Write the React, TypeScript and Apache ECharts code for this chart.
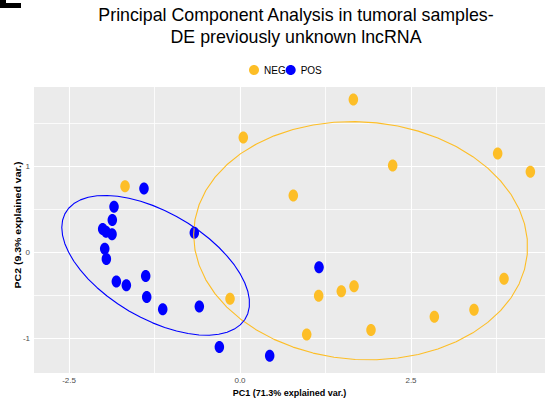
import React, { useEffect, useRef } from "react";
import * as echarts from "echarts";

// PC scores
const negPC1 = [-1.681, 0.048, 1.657, 0.779, 2.232, 3.767, 4.245, -0.146, 1.15, 1.481, 1.667, 0.975, 1.915, 2.841, 3.421, 3.86];
const negPC2 = [0.77, 1.337, 1.779, 0.663, 1.012, 1.151, 0.937, -0.543, -0.508, -0.453, -0.395, -0.958, -0.907, -0.752, -0.671, -0.31];
const posPC1 = [-1.404, -1.842, -1.867, -2.008, -1.959, -1.871, -1.978, -1.954, -1.808, -1.662, -1.379, -1.364, -1.13, -0.668, -0.595, 1.155, -0.302, 0.434];
const posPC2 = [0.744, 0.53, 0.376, 0.271, 0.24, 0.209, 0.042, -0.078, -0.342, -0.384, -0.276, -0.52, -0.663, 0.228, -0.632, -0.175, -1.105, -1.206];

const groups = ["NEG", "POS"];
const xMajor = [-2.5, 0, 2.5];
const xMinor = [-1.25, 1.25, 3.75];
const yMajor = [-1, 0, 1];
const yMinor = [-0.5, 0.5, 1.5];
const ellipseProb = 0.68;

const COLORS: Record<string, string> = { NEG: "#FDBE27", POS: "#0000FF" };
const FONT = "Liberation Sans, Arial, sans-serif";
const DOT = "path://M50,0 C77.6,0 100,22.4 100,50 C100,77.6 77.6,100 50,100 C22.4,100 0,77.6 0,50 C0,22.4 22.4,0 50,0 Z";

function ellipse(xs: number[], ys: number[], prob: number, n = 50): number[][] {
  const m = xs.length;
  const mx = xs.reduce((s, v) => s + v, 0) / m;
  const my = ys.reduce((s, v) => s + v, 0) / m;
  let a = 0, b = 0, c = 0;
  for (let i = 0; i < m; i++) {
    a += (xs[i] - mx) ** 2;
    b += (xs[i] - mx) * (ys[i] - my);
    c += (ys[i] - my) ** 2;
  }
  a /= m - 1; b /= m - 1; c /= m - 1;
  const ed = Math.sqrt(-2 * Math.log(1 - prob));
  const r11 = Math.sqrt(a);
  const r12 = b / r11;
  const r22 = Math.sqrt(c - r12 * r12);
  const pts: number[][] = [];
  for (let i = 0; i < n; i++) {
    const t = -Math.PI + (2 * Math.PI * i) / (n - 1);
    pts.push([mx + ed * Math.cos(t) * r11, my + ed * (Math.cos(t) * r12 + Math.sin(t) * r22)]);
  }
  return pts;
}

const zip = (xs: number[], ys: number[]) => xs.map((x, i) => [x, ys[i]]);

export default function App() {
  const ref = useRef<HTMLDivElement>(null);
  useEffect(() => {
    if (!ref.current) return;
    const chart = echarts.init(ref.current, undefined, { renderer: "svg" });
    const gridLine = (w: number) => ({ color: "#FFFFFF", width: w, type: "solid" as const });
    chart.setOption({
      animation: false,
      grid: { left: 34, right: 2, top: 87, bottom: 29, show: true, backgroundColor: "#EBEBEB", borderWidth: 0, containLabel: false, outerBoundsMode: "none" },
      legend: {
        data: groups,
        left: 249,
        top: 65,
        padding: 0,
        itemWidth: 10,
        itemHeight: 12,
        itemGap: 0,
        icon: DOT,
        textStyle: { fontFamily: FONT, fontSize: 10, color: "#000" },
      },
      xAxis: {
        type: "value",
        min: -3.012,
        max: 4.459,
        axisLine: { show: false },
        splitLine: { show: false },
        axisTick: { show: true, length: 3, customValues: xMajor, lineStyle: { color: "#333" } },
        axisLabel: { customValues: xMajor, formatter: (v: number) => v.toFixed(1), fontFamily: FONT, fontSize: 8, color: "#4D4D4D", margin: 3 },
        name: "PC1 (71.3% explained var.)",
        nameLocation: "middle",
        nameGap: 12,
        nameTextStyle: { fontFamily: FONT, fontSize: 9, fontWeight: "bold", color: "#000" },
      },
      yAxis: {
        type: "value",
        min: -1.407,
        max: 1.926,
        axisLine: { show: false },
        splitLine: { show: false },
        axisTick: { show: true, length: 3, customValues: yMajor, lineStyle: { color: "#333" } },
        axisLabel: { customValues: yMajor, formatter: (v: number) => String(v), fontFamily: FONT, fontSize: 8, color: "#4D4D4D", margin: 4 },
      },
      graphic: [
        {
          type: "text",
          x: 296,
          y: 4,
          style: {
            text: "Principal Component Analysis in tumoral samples-\nDE previously unknown lncRNA",
            fontFamily: FONT,
            fontSize: 17.8,
            lineHeight: 22,
            fill: "#000",
            textAlign: "center",
            textVerticalAlign: "top",
          },
        },
        {
          type: "polygon",
          shape: { points: [[0, 0], [6, 0], [6, 3], [21, 3], [21, 8], [0, 8]] },
          style: { fill: "#000" },
        },
        {
          type: "text",
          x: 18,
          y: 225,
          rotation: Math.PI / 2,
          scaleX: 1.17,
          style: {
            text: "PC2 (9.3% explained var.)",
            fontFamily: FONT,
            fontSize: 9,
            fontWeight: "bold",
            fill: "#000",
            textAlign: "center",
            textVerticalAlign: "middle",
          },
        },
      ],
      series: [
        {
          name: "grid-lines",
          type: "line",
          data: [],
          silent: true,
          markLine: {
            silent: true,
            z: 1,
            symbol: "none",
            label: { show: false },
            emphasis: { disabled: true },
            data: [
              ...xMajor.map((v) => ({ xAxis: v, lineStyle: gridLine(1.1) })),
              ...xMinor.map((v) => ({ xAxis: v, lineStyle: gridLine(0.8) })),
              ...yMajor.map((v) => ({ yAxis: v, lineStyle: gridLine(1.1) })),
              ...yMinor.map((v) => ({ yAxis: v, lineStyle: gridLine(0.8) })),
            ],
          },
        },
        {
          name: "NEG",
          type: "scatter",
          data: zip(negPC1, negPC2),
          symbol: DOT,
          symbolSize: [9.5, 12],
          itemStyle: { color: COLORS.NEG, opacity: 1 },
          z: 3,
        },
        {
          name: "POS",
          type: "scatter",
          data: zip(posPC1, posPC2),
          symbol: DOT,
          symbolSize: [9.5, 12],
          itemStyle: { color: COLORS.POS, opacity: 1 },
          z: 3,
        },
        {
          name: "NEG ellipse",
          type: "line",
          data: ellipse(negPC1, negPC2, ellipseProb),
          showSymbol: false,
          smooth: false,
          lineStyle: { color: COLORS.NEG, width: 1.1 },
          itemStyle: { color: COLORS.NEG },
          z: 4,
        },
        {
          name: "POS ellipse",
          type: "line",
          data: ellipse(posPC1, posPC2, ellipseProb),
          showSymbol: false,
          smooth: false,
          lineStyle: { color: COLORS.POS, width: 1.1 },
          itemStyle: { color: COLORS.POS },
          z: 4,
        },
      ],
    });
    return () => chart.dispose();
  }, []);
  return <div ref={ref} style={{ position: "absolute", left: 0, top: 0, width: 547, height: 402 }} />;
}
